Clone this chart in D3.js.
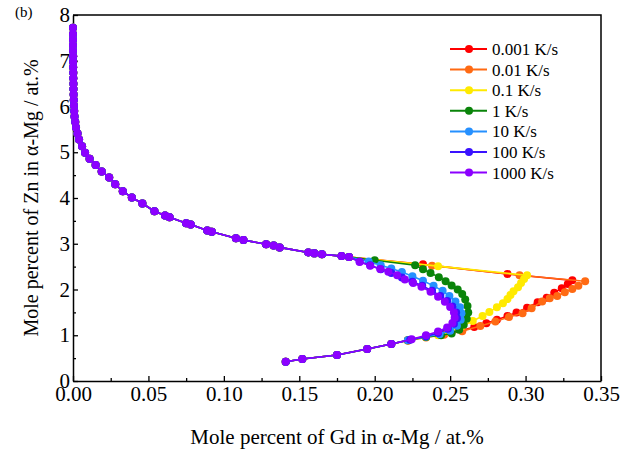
<!DOCTYPE html>
<html>
<head>
<meta charset="utf-8">
<script src="https://cdn.jsdelivr.net/npm/d3@7/dist/d3.min.js"></script>
<style>
  body { margin: 0; background: #fff; }
  svg { display: block; }
</style>
</head>
<body>
<div id="chart"></div>
<script>
// cooling rates + colours (legend order)
const rates = ['0.001 K/s', '0.01 K/s', '0.1 K/s', '1 K/s', '10 K/s', '100 K/s', '1000 K/s'];
const colors = ['#ff0000', '#ff6a13', '#ffea00', '#0a840a', '#2590ff', '#3a12ff', '#8c00ff'];

const xTicks = [0, 0.05, 0.10, 0.15, 0.20, 0.25, 0.30, 0.35];
const yTicks = [0, 1, 2, 3, 4, 5, 6, 7, 8];

// first solid: shared by all rates
const startPath = [[0.141, 0.42], [0.152, 0.48], [0.175, 0.57], [0.195, 0.70], [0.211, 0.81]];

// common branch back up to the Zn-rich end
const trunk = [
  [0.183, 2.71], [0.178, 2.73], [0.165, 2.77], [0.160, 2.79], [0.156, 2.81], [0.137, 2.92],
  [0.133, 2.96], [0.128, 2.99], [0.113, 3.08], [0.108, 3.12], [0.092, 3.26], [0.089, 3.29],
  [0.078, 3.42], [0.075, 3.45], [0.064, 3.58], [0.061, 3.62], [0.054, 3.71], [0.046, 3.88],
  [0.039, 4.01], [0.033, 4.15], [0.028, 4.30], [0.024, 4.45], [0.019, 4.58], [0.015, 4.72],
  [0.011, 4.86], [0.008, 4.99], [0.006, 5.13], [0.004, 5.28], [0.003, 5.41], [0.002, 5.54],
  [0.0015, 5.66], [0.001, 5.78], [0.0008, 5.90], [0.0006, 6.02], [0.0005, 6.14], [0.0004, 6.26],
  [0.0003, 6.38], [0.0003, 6.50], [0.0002, 6.62], [0.0002, 6.74], [0.0001, 6.86], [0.0001, 6.98],
  [0.0001, 7.10], [0, 7.22], [0, 7.34], [0, 7.46], [0, 7.58], [0, 7.72]
];

// rate specific part between startPath and trunk
const mid0001 = [
  [0.222, 0.89], [0.234, 0.97], [0.246, 1.04], [0.258, 1.11], [0.266, 1.18], [0.274, 1.26],
  [0.281, 1.34], [0.288, 1.42], [0.294, 1.50], [0.301, 1.60], [0.308, 1.72], [0.314, 1.82],
  [0.319, 1.93], [0.324, 2.03], [0.328, 2.12], [0.331, 2.20], [0.288, 2.34], [0.232, 2.55]
];
const mid001 = [
  [0.222, 0.88], [0.234, 0.95], [0.246, 1.01], [0.258, 1.09], [0.270, 1.20], [0.280, 1.30],
  [0.289, 1.40], [0.298, 1.48], [0.304, 1.59], [0.311, 1.74], [0.316, 1.81], [0.321, 1.86],
  [0.326, 1.94], [0.331, 2.01], [0.335, 2.08], [0.3395, 2.18], [0.296, 2.31], [0.238, 2.52]
];
const mid01 = [
  [0.222, 0.89], [0.234, 0.96], [0.242, 1.00], [0.250, 1.07], [0.258, 1.20], [0.265, 1.31],
  [0.2715, 1.42], [0.276, 1.51], [0.281, 1.61], [0.285, 1.70], [0.288, 1.79], [0.290, 1.88],
  [0.292, 1.96], [0.295, 2.05], [0.297, 2.14], [0.299, 2.23], [0.301, 2.31], [0.242, 2.51]
];
const mid1 = [
  [0.222, 0.89], [0.234, 0.96], [0.244, 1.00], [0.251, 1.04], [0.256, 1.12], [0.259, 1.23],
  [0.261, 1.36], [0.262, 1.50], [0.2615, 1.64], [0.260, 1.78], [0.258, 1.90], [0.255, 2.00],
  [0.251, 2.09], [0.247, 2.18], [0.2425, 2.27], [0.237, 2.36], [0.232, 2.44], [0.2268, 2.53],
  [0.200, 2.64]
];
const mid10 = [
  [0.222, 0.89], [0.234, 0.97], [0.243, 1.02], [0.250, 1.10], [0.2545, 1.21], [0.257, 1.34],
  [0.2575, 1.48], [0.2565, 1.61], [0.2535, 1.74], [0.2495, 1.86], [0.245, 1.97], [0.239, 2.08],
  [0.232, 2.19], [0.225, 2.29], [0.218, 2.38], [0.211, 2.46], [0.204, 2.53], [0.196, 2.61]
];
const mid100 = [
  [0.2235, 0.90], [0.234, 0.98], [0.242, 1.05], [0.2485, 1.14], [0.2525, 1.25], [0.2545, 1.37],
  [0.254, 1.50], [0.2515, 1.63], [0.248, 1.75], [0.2435, 1.86], [0.238, 1.97], [0.2315, 2.08],
  [0.225, 2.17], [0.218, 2.26], [0.211, 2.36], [0.204, 2.44], [0.197, 2.53], [0.190, 2.61]
];
const mid1000 = [
  [0.2245, 0.91], [0.234, 1.00], [0.242, 1.08], [0.248, 1.17], [0.2515, 1.27], [0.253, 1.38],
  [0.2525, 1.50], [0.250, 1.62], [0.2465, 1.73], [0.242, 1.84], [0.237, 1.95], [0.231, 2.06],
  [0.2255, 2.14], [0.220, 2.22], [0.2149, 2.31], [0.209, 2.39], [0.2036, 2.45], [0.197, 2.52],
  [0.190, 2.60]
];
const mids = [mid0001, mid001, mid01, mid1, mid10, mid100, mid1000];

const W = 637, H = 452;
const margin = { top: 15, right: 36, bottom: 71, left: 73 };
const iw = W - margin.left - margin.right;
const ih = H - margin.top - margin.bottom;

const svg = d3.select('#chart')
  .append('svg')
  .attr('width', W)
  .attr('height', H)
  .style('font-family', '"Liberation Serif", "Times New Roman", serif');

const g = svg.append('g').attr('transform', `translate(${margin.left},${margin.top})`);

const x = d3.scaleLinear().domain([0, 0.35]).range([0, iw]);
const y = d3.scaleLinear().domain([0, 8]).range([ih, 0]);

// minor ticks (inward)
const xMinor = d3.range(0.025, 0.35, 0.05);
const yMinor = d3.range(0.5, 8, 1);

const xAxis = g.append('g')
  .attr('transform', `translate(0,${ih})`)
  .call(d3.axisBottom(x).tickValues(xTicks).tickFormat(d3.format('.2f')).tickSizeInner(-5).tickSizeOuter(0).tickPadding(7));
const yAxis = g.append('g')
  .call(d3.axisLeft(y).tickValues(yTicks).tickFormat(d3.format('d')).tickSizeInner(-5).tickSizeOuter(0).tickPadding(9));

g.append('g').attr('transform', `translate(0,${ih})`)
  .call(d3.axisBottom(x).tickValues(xMinor).tickFormat('').tickSizeInner(-3).tickSizeOuter(0))
  .select('.domain').remove();
g.append('g')
  .call(d3.axisLeft(y).tickValues(yMinor).tickFormat('').tickSizeInner(-3).tickSizeOuter(0))
  .select('.domain').remove();

g.selectAll('.tick line').attr('stroke', '#000').attr('stroke-width', 1.3);
[xAxis, yAxis].forEach(a => {
  a.attr('font-family', null).attr('font-size', null);
  a.select('.domain').attr('stroke', '#000').attr('stroke-width', 1.5);
  a.selectAll('text').attr('fill', '#000').attr('font-size', 21);
});
yAxis.selectAll('text').attr('dx', 6);
xAxis.selectAll('text').attr('dy', '0.6em');

// frame top/right
g.append('path')
  .attr('d', `M0,0H${iw}V${ih}`)
  .attr('fill', 'none')
  .attr('stroke', '#000')
  .attr('stroke-width', 1.5);

// series
const line = d3.line().x(d => x(d[0])).y(d => y(d[1]));
rates.forEach((r, i) => {
  const pts = startPath.concat(mids[i], trunk);
  const sg = g.append('g');
  sg.append('path')
    .attr('d', line(pts))
    .attr('fill', 'none')
    .attr('stroke', colors[i])
    .attr('stroke-width', 1.6);
  sg.selectAll('circle')
    .data(pts)
    .join('circle')
    .attr('cx', d => x(d[0]))
    .attr('cy', d => y(d[1]))
    .attr('r', 4)
    .attr('fill', colors[i]);
});

// legend
const leg = svg.append('g').attr('transform', 'translate(450,49)');
rates.forEach((r, i) => {
  const row = leg.append('g').attr('transform', `translate(0,${i * 20.6})`);
  row.append('line').attr('x1', 0).attr('x2', 37).attr('stroke', colors[i]).attr('stroke-width', 2);
  row.append('circle').attr('cx', 19).attr('r', 4).attr('fill', colors[i]);
  row.append('text').attr('x', 42).attr('dy', '0.35em').attr('font-size', 17).text(r);
});

// axis titles
svg.append('text')
  .attr('x', margin.left + iw / 2).attr('y', 444)
  .attr('text-anchor', 'middle').attr('font-size', 21)
  .text('Mole percent of Gd in α-Mg / at.%');
svg.append('text')
  .attr('transform', `translate(38,${margin.top + ih / 2}) rotate(-90)`)
  .attr('text-anchor', 'middle').attr('font-size', 20)
  .text('Mole percent of Zn in α-Mg / at.%');

svg.append('text').attr('x', 15).attr('y', 17).attr('font-size', 15).text('(b)');
</script>
</body>
</html>
